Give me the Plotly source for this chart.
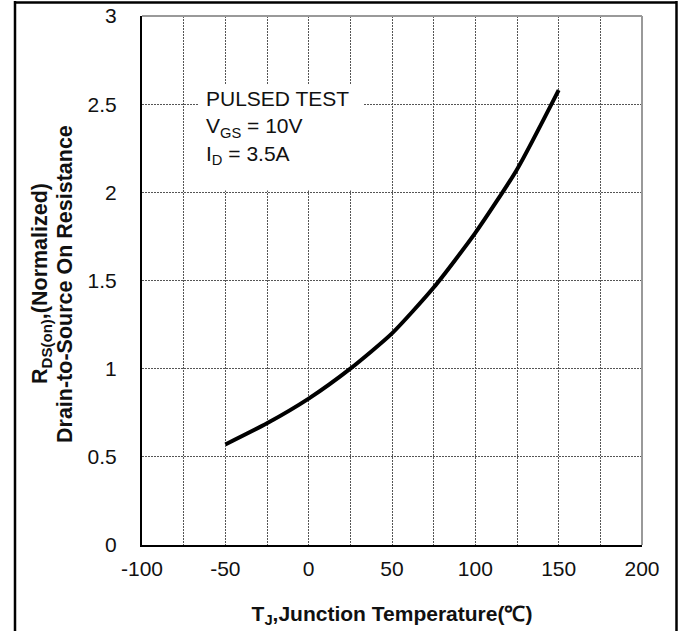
import plotly.graph_objects as go

# Data
temps = [-50, -25, 0, 25, 50, 75, 100, 125, 150]
rds_norm = [0.57, 0.69, 0.83, 1.0, 1.2, 1.46, 1.77, 2.13, 2.58]

x_tickvals = [-100, -50, 0, 50, 100, 150, 200]
x_ticktext = ["-100", "-50", "0", "50", "100", "150", "200"]
y_tickvals = [0, 0.5, 1, 1.5, 2, 2.5, 3]
y_ticktext = ["0", "0.5", "1", "1.5", "2", "2.5", "3"]

x_title = "<b>T<sub>J</sub>,Junction Temperature(℃)</b>"
y_title_line1 = "<b>R<sub>DS(on)</sub>,(Normalized)</b>"
y_title_line2 = "<b>Drain-to-Source On Resistance</b>"
note_text = "PULSED TEST<br>V<sub>GS</sub> = 10V<br>I<sub>D</sub> = 3.5A"

FONT = "Liberation Sans, Arial, sans-serif"
W, H = 681, 631


def px_x(p):
    return p / W


def px_y(p):
    return 1 - p / H


fig = go.Figure()
fig.add_trace(go.Scatter(
    x=temps, y=rds_norm, mode="lines",
    line=dict(color="black", width=4, shape="spline", smoothing=0.6),
    showlegend=False, hoverinfo="skip",
))

# page frame drawn on a hidden full-page pixel axis
fig.add_trace(go.Scatter(
    x=[15, 15, None, 15, 676.5, None, 676.5, 676.5],
    y=[640, 1, None, 2.5, 2.5, None, 1, 640],
    xaxis="x2", yaxis="y2", mode="lines",
    line=dict(color="black", width=2.5),
    showlegend=False, hoverinfo="skip", cliponaxis=False,
))

GRIDC = "#555"
GDASH = "2px,1px"
grid = dict(showgrid=True, gridcolor=GRIDC, gridwidth=1, griddash=GDASH)

fig.update_layout(
    width=W, height=H,
    margin=dict(l=0, r=0, t=0, b=0),
    paper_bgcolor="white", plot_bgcolor="rgba(0,0,0,0)",
    font=dict(family=FONT, color="#111"),
    xaxis=dict(
        domain=[px_x(142), px_x(642)],
        range=[-100, 200], tickvals=x_tickvals, ticktext=x_ticktext,
        automargin=False,
        showline=True, linecolor="black", linewidth=2,
        ticks="", ticklabelstandoff=4, tickfont=dict(size=21, family=FONT, color="#111"),
        zeroline=False,
        minor=dict(dtick=25, tick0=0, showgrid=True, gridcolor=GRIDC, gridwidth=1, griddash=GDASH),
        title=dict(text=x_title, font=dict(size=21, family=FONT, color="#111"), standoff=27),
        **grid,
    ),
    yaxis=dict(
        domain=[px_y(545), px_y(16)],
        range=[0, 3], tickvals=y_tickvals, ticktext=y_ticktext,
        automargin=False,
        showline=True, linecolor="black", linewidth=2,
        ticks="", ticklabelstandoff=19, tickfont=dict(size=21, family=FONT, color="#111"),
        zeroline=False,
        **grid,
    ),
    xaxis2=dict(domain=[0, 1], range=[0, W], visible=False, fixedrange=True,
                showgrid=False, zeroline=False, anchor="y2"),
    yaxis2=dict(domain=[0, 1], range=[H, 0], visible=False, fixedrange=True,
                showgrid=False, zeroline=False, anchor="x2"),
)

# y-axis title, two rotated lines
fig.add_annotation(x=px_x(41), y=px_y(284), xref="paper", yref="paper",
                   xanchor="center", yanchor="middle", textangle=-90, showarrow=False,
                   text=y_title_line1, font=dict(size=21.5, family=FONT, color="#111"))
fig.add_annotation(x=px_x(65), y=px_y(284), xref="paper", yref="paper",
                   xanchor="center", yanchor="middle", textangle=-90, showarrow=False,
                   text=y_title_line2, font=dict(size=21.5, family=FONT, color="#111"))

# white box behind the annotation (covers the grid)
fig.add_shape(type="rect", xref="x", yref="y", x0=-66.4, x1=32.6, y0=2.01, y1=2.61,
              fillcolor="white", line=dict(width=0), layer="above")
fig.add_annotation(
    x=-62.8, y=2.61, xref="x", yref="y", xanchor="left", yanchor="top",
    text=note_text,
    showarrow=False, align="left", font=dict(size=21, family=FONT, color="#111"),
)

# plot frame: top and right in gray
fig.add_shape(type="line", xref="paper", yref="paper",
              x0=px_x(142), x1=px_x(642), y0=px_y(16), y1=px_y(16),
              line=dict(color="#999", width=2))
fig.add_shape(type="line", xref="paper", yref="paper",
              x0=px_x(642), x1=px_x(642), y0=px_y(545), y1=px_y(16),
              line=dict(color="#999", width=2))

fig.write_html("out.html", config={"displayModeBar": False},
               post_script="document.body.style.margin='0';")
